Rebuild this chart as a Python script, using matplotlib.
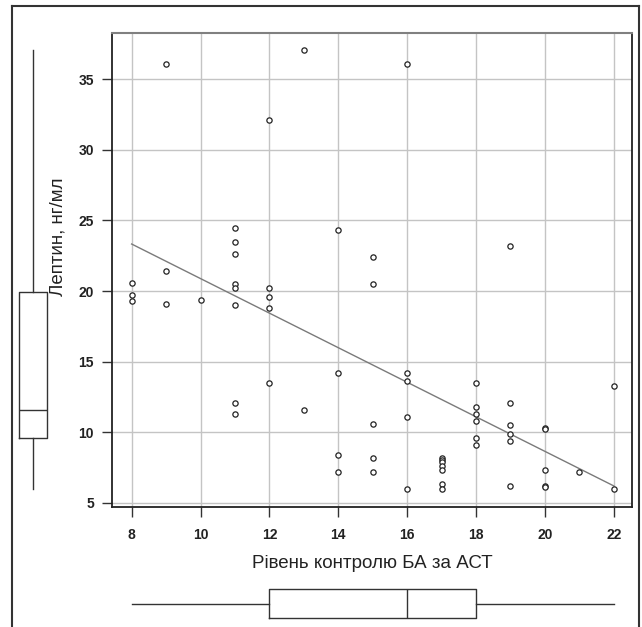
"""
Scatter of leptin vs ACT control level, with marginal box plots
(SPSS-style figure).
"""

import numpy as np
import matplotlib
matplotlib.use('Agg')
import matplotlib.pyplot as plt
from matplotlib.lines import Line2D

# ACT score (x) and leptin level, ng/ml (y)
act = [8, 8, 8,
       9, 9, 9,
       10,
       11, 11, 11, 11, 11, 11, 11, 11,
       12, 12, 12, 12, 12,
       13, 13,
       14, 14, 14, 14,
       15, 15, 15, 15, 15,
       16, 16, 16, 16, 16,
       17, 17, 17, 17, 17, 17, 17,
       18, 18, 18, 18, 18, 18,
       19, 19, 19, 19, 19, 19,
       20, 20, 20, 20, 20,
       21,
       22, 22]
leptin = [20.6, 19.7, 19.3,
          36.1, 21.4, 19.1,
          19.4,
          24.5, 23.5, 22.6, 20.5, 20.2, 19.0, 12.1, 11.3,
          32.1, 20.2, 19.6, 18.8, 13.5,
          37.1, 11.6,
          24.3, 14.2, 8.4, 7.2,
          22.4, 20.5, 10.6, 8.2, 7.2,
          36.1, 14.2, 13.6, 11.1, 6.0,
          8.2, 8.0, 7.9, 7.6, 7.3, 6.3, 6.0,
          13.5, 11.8, 11.3, 10.8, 9.6, 9.1,
          23.2, 12.1, 10.5, 9.9, 9.4, 6.2,
          10.3, 10.2, 7.3, 6.2, 6.1,
          7.2,
          13.3, 6.0]

# leptin box plot summary as drawn in the figure (min, Q1, median, Q3, max)
leptin_box = [6.0, 9.6, 11.6, 19.9, 37.1]

x_ticks = [8, 10, 12, 14, 16, 18, 20, 22]
y_ticks = [5, 10, 15, 20, 25, 30, 35]

x_label = 'Рівень контролю БА за АСТ'
y_label = 'Лептин, нг/мл'

W, H = 642, 627
fig = plt.figure(figsize=(W / 100, H / 100), dpi=100)


def fx(px):
    return px / W


def fy(py):
    return 1 - py / H


box_style = dict(
    boxprops=dict(color='#333333', linewidth=1.0),
    whiskerprops=dict(color='#333333', linewidth=1.0),
    medianprops=dict(color='#333333', linewidth=1.0),
    showcaps=False, showfliers=False,
)

# main scatter axes
ax = fig.add_axes([fx(112), fy(507), fx(632) - fx(112), fy(33) - fy(507)])
ax.set_xlim(7.43, 22.53)
ax.set_ylim(4.70, 38.28)
ax.set_xticks(x_ticks)
ax.set_yticks(y_ticks)
ax.grid(True, color='#c4c4c4', linewidth=1.0)
ax.set_axisbelow(True)

ax.plot(act, leptin, linestyle='none', marker='o', markersize=3.8,
        markerfacecolor='white', markeredgecolor='#222222',
        markeredgewidth=0.9, zorder=3)

# least squares line over the observed range
k, b = np.polyfit(act, leptin, 1)
xs = np.array([min(act), max(act)])
ax.plot(xs, k * xs + b, color='#7a7a7a', linewidth=1.0, zorder=2)

for side in ['left', 'bottom', 'right']:
    ax.spines[side].set_color('#222222')
    ax.spines[side].set_linewidth(1.3)
ax.spines['top'].set_color('#808080')
ax.spines['top'].set_linewidth(1.5)

ax.tick_params(direction='out', length=7, width=1, color='#333333',
               pad=6, labelsize=10)
ax.tick_params(axis='x', pad=8)
for lab in ax.get_xticklabels() + ax.get_yticklabels():
    lab.set_fontweight('bold')
    lab.set_family('Liberation Sans')
    lab.set_color('#222222')

# box plot of leptin on the left, same vertical scale
axl = fig.add_axes([fx(17), fy(507), fx(49) - fx(17), fy(33) - fy(507)],
                   sharey=ax)
lo, q1, med, q3, hi = leptin_box
axl.bxp([dict(whislo=lo, q1=q1, med=med, q3=q3, whishi=hi, fliers=[])],
        positions=[0], widths=0.9, **box_style)
axl.set_xlim(-0.5, 0.5)
axl.axis('off')

# box plot of ACT below, same horizontal scale
axb = fig.add_axes([fx(112), fy(620), fx(632) - fx(112), fy(587) - fy(620)],
                   sharex=ax)
axb.boxplot(act, positions=[0], widths=0.9, whis=(0, 100), vert=False,
            **box_style)
axb.set_ylim(-0.5, 0.5)
axb.axis('off')

# axis titles
fig.text(fx(372), fy(563), x_label, ha='center', va='center',
         fontsize=13.5, family='Liberation Sans', color='#222222')
fig.text(fx(58), fy(237), y_label, ha='center', va='center', rotation=90,
         fontsize=13.5, family='Liberation Sans', color='#222222')

# outer frame of the panel
frame_kw = dict(color='#333333', linewidth=1.5, transform=fig.transFigure)
fig.add_artist(Line2D([fx(12), fx(12)], [fy(6), 0], **frame_kw))
fig.add_artist(Line2D([fx(12), fx(639)], [fy(6), fy(6)], **frame_kw))
fig.add_artist(Line2D([fx(639), fx(639)], [fy(6), 0], **frame_kw))

fig.savefig('out.png', dpi=100)
print('saved out.png', k, b)
